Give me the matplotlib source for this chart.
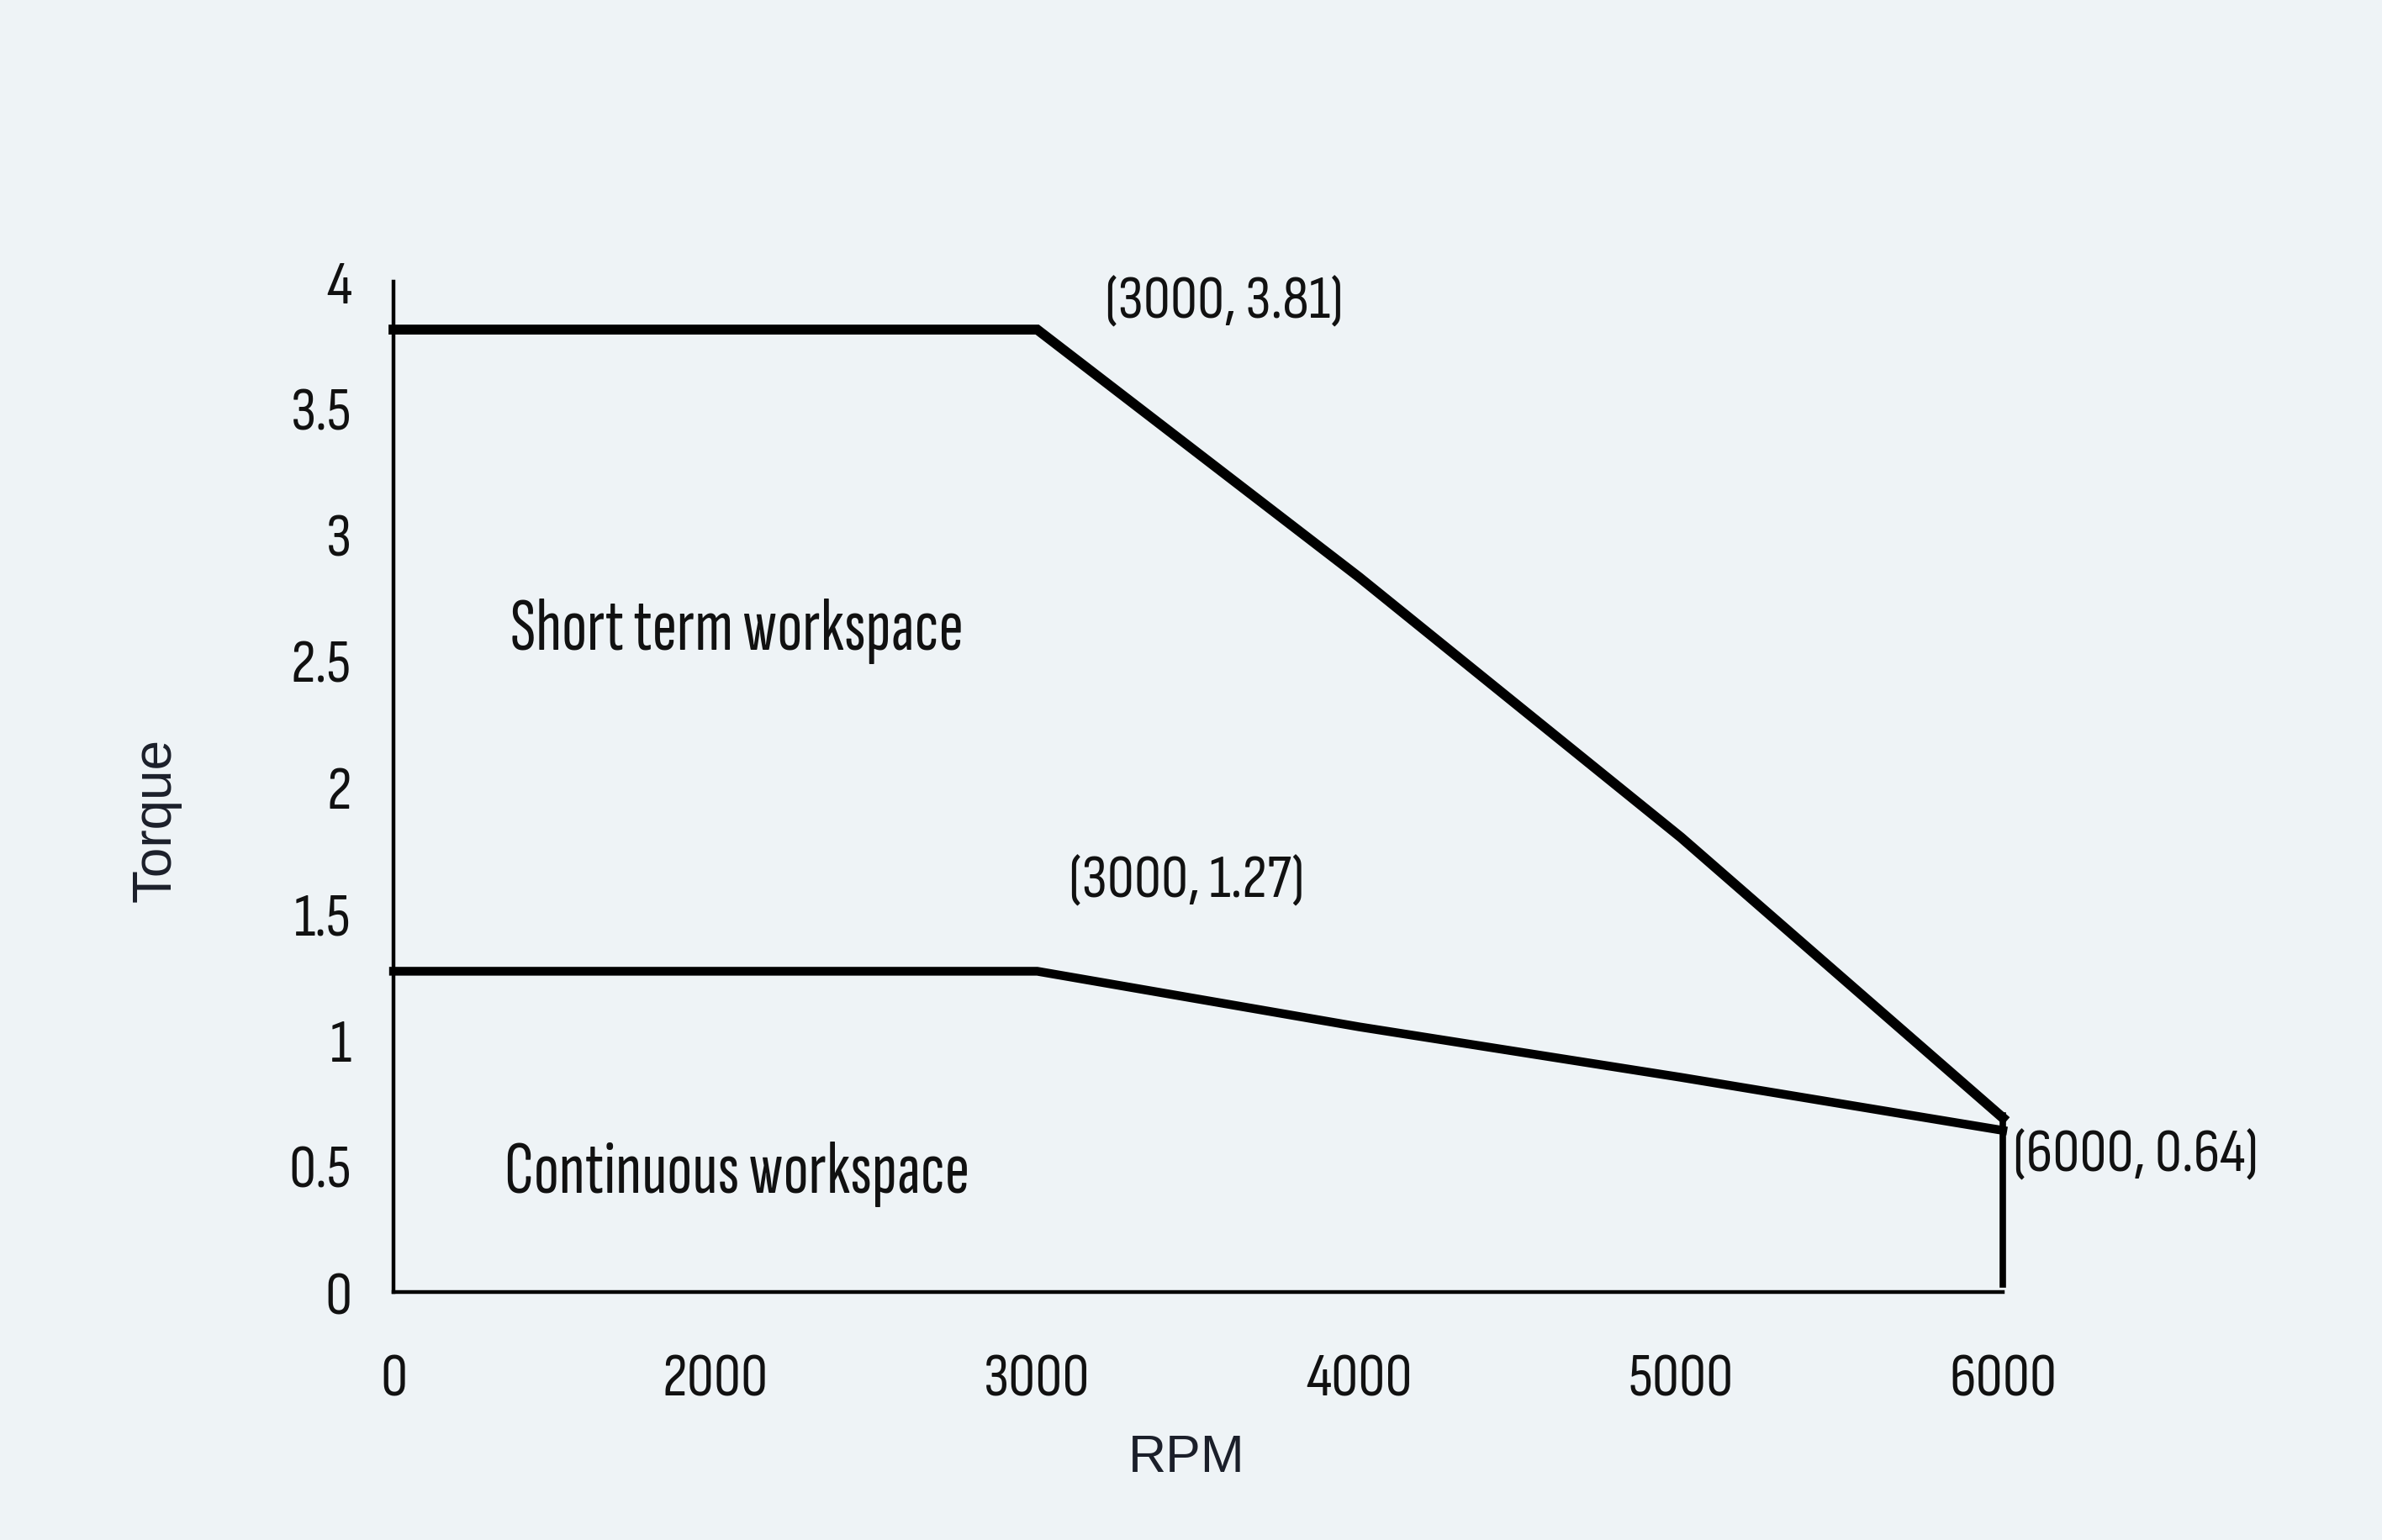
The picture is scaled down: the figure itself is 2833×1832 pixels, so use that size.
import matplotlib
matplotlib.use("Agg")
import matplotlib.pyplot as plt
from matplotlib import font_manager

# torque-speed curve data
rpm_labels = ["0", "2000", "3000", "4000", "5000", "6000"]
rpm_pos = [0, 1, 2, 3, 4, 5]          # ticks are evenly spaced, not linear in rpm
peak_torque = [3.81, 3.81, 3.81, 2.83, 1.80, 0.69]
cont_torque = [1.27, 1.27, 1.27, 1.05, 0.85, 0.64]
edge_pos = [5, 5]
edge_torque = [0.70, 0.03]
y_ticks = [0, 0.5, 1, 1.5, 2, 2.5, 3, 3.5, 4]
y_tick_labels = ["0", "0.5", "1", "1.5", "2", "2.5", "3", "3.5", "4"]

bg = "#eef3f6"
names = {f.name for f in font_manager.fontManager.ttflist}

def pick(cands):
    for c in cands:
        if c in names:
            return c
    return "DejaVu Sans"

narrow = pick(["Sofia Sans Extra Condensed", "Sofia Sans Condensed", "Liberation Sans Narrow"])
numfont = pick(["Sofia Sans Condensed", "Sofia Sans Extra Condensed", "Liberation Sans Narrow"])

fig = plt.figure(figsize=(28.33, 18.33), dpi=100, facecolor=bg)
ax = fig.add_axes([0.1652, 0.1609, 0.6756, 0.6558])
ax.set_facecolor(bg)

ax.plot(rpm_pos, peak_torque, color="black", lw=8.5, solid_joinstyle="miter", clip_on=False)
ax.plot(rpm_pos, cont_torque, color="black", lw=7.5, solid_joinstyle="miter", clip_on=False)
ax.plot(edge_pos, edge_torque, color="black", lw=5.5, clip_on=False)

ax.set_xlim(0, 5)
ax.set_ylim(0, 4)
for s in ["top", "right"]:
    ax.spines[s].set_visible(False)
for s in ["left", "bottom"]:
    ax.spines[s].set_linewidth(3.2)

ax.set_xticks(rpm_pos)
ax.set_xticklabels(rpm_labels)
ax.set_yticks(y_ticks)
ax.set_yticklabels(y_tick_labels)
ax.tick_params(axis="both", length=0, labelsize=52)
ax.tick_params(axis="x", pad=52)
ax.tick_params(axis="y", pad=36)
for lab in ax.get_xticklabels() + ax.get_yticklabels():
    lab.set_family(numfont)
    lab.set_color("#111111")

ax.set_xlabel("RPM", fontsize=45, family="Liberation Sans", color="#1b1f2a")
ax.set_ylabel("Torque", fontsize=46, family="Liberation Sans", color="#1b1f2a")
ax.xaxis.set_label_coords(0.493, -0.139)
ax.yaxis.set_label_coords(-0.132, 0.468)

txt = dict(fontsize=52, family=numfont, color="#111111")
ax.annotate("(3000, 3.81)", (2, 3.81), xytext=(58, 24), textcoords="offset points",
            va="center", ha="left", **txt)
ax.annotate("(3000, 1.27)", (2, 1.27), xytext=(27, 77), textcoords="offset points",
            va="center", ha="left", **txt)
ax.annotate("(6000, 0.64)", (5, 0.64), xytext=(9, -21), textcoords="offset points",
            va="center", ha="left", **txt)
lbl = dict(fontsize=64, family=narrow, color="#111111", ha="center", va="center")
ax.text(1.066, 2.62, "Short term workspace", **lbl)
ax.text(1.066, 0.47, "Continuous workspace", **lbl)

fig.savefig("out.png", dpi=100, facecolor=bg)
